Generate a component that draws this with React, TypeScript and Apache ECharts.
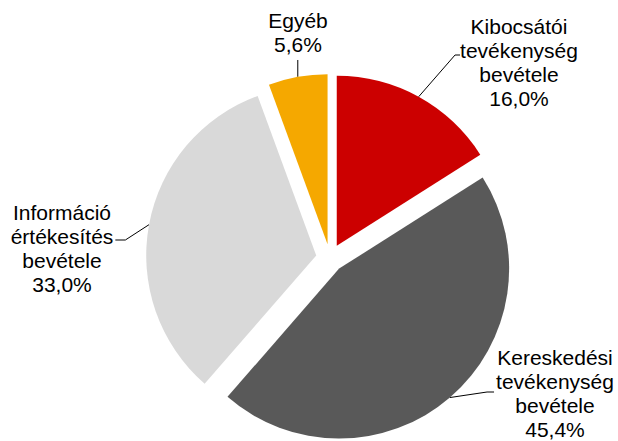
import React, { useEffect, useRef } from 'react';
import * as echarts from 'echarts';

// Data (clockwise from 12 o'clock)
const categories = [
  'Kibocsátói\ntevékenység\nbevétele',
  'Kereskedési\ntevékenység\nbevétele',
  'Információ\nértékesítés\nbevétele',
  'Egyéb',
];
const shares = [16.0, 45.4, 33.0, 5.6];
const colors = ['#CC0000', '#595959', '#D9D9D9', '#F5A800'];

// Layout
const CENTER = [330, 258];
const RADIUS = 170;
const EXPLODE = 14;

// Label block centre, which side of the block the leader line attaches to
const labelPlacement = [
  { x: 519, y: 62, side: 'left', dy: -7, elbow: 5, gap: 0 },
  { x: 555, y: 393, side: 'left', dy: -1, elbow: 7, gap: 2 },
  { x: 62, y: 248, side: 'right', dy: -8, elbow: 10, gap: 2 },
  { x: 298, y: 32, side: 'bottom', dy: 0, elbow: 0, gap: 4 },
];

const fmt = (v: number) => v.toFixed(1).replace('.', ',') + '%';

export default function App() {
  const ref = useRef<HTMLDivElement>(null);
  useEffect(() => {
    if (!ref.current) return;
    const chart = echarts.init(ref.current, undefined, { renderer: 'svg' });
    chart.setOption({
      animation: false,
      backgroundColor: '#ffffff',
      series: [
        {
          type: 'pie',
          center: CENTER,
          radius: RADIUS,
          startAngle: 90,
          clockwise: true,
          avoidLabelOverlap: false,
          selectedMode: 'multiple',
          selectedOffset: EXPLODE,
          emphasis: { disabled: true },
          label: {
            show: true,
            position: 'outside',
            color: '#000000',
            fontFamily: 'Liberation Sans, Arial, sans-serif',
            fontSize: 21,
            lineHeight: 24,
            formatter: (p: any) => p.name + '\n' + fmt(p.value),
          },
          labelLine: {
            show: true,
            length: 20,
            length2: 10,
            lineStyle: { color: '#000000', width: 1 },
          },
          labelLayout: (params: any) => {
            const i = params.dataIndex;
            const p = labelPlacement[i];
            const r = params.labelRect;
            const w = r.width;
            const h = r.height;
            const pts = params.labelLinePoints;
            const start = pts ? [pts[0][0], pts[0][1]] : [CENTER[0], CENTER[1]];
            const rightSide = start[0] >= CENTER[0];
            const anchorX = rightSide ? r.x : r.x + w;
            const anchorY = r.y + h / 2;
            const vx = start[0] - CENTER[0];
            const vy = start[1] - CENTER[1];
            const len = Math.hypot(vx, vy) || 1;
            const ox = (vx / len) * EXPLODE;
            const oy = (vy / len) * EXPLODE;
            let end: number[];
            let elbow: number[];
            if (p.side === 'left') {
              end = [p.x - w / 2 - p.gap, p.y + p.dy];
              elbow = [end[0] - p.elbow, end[1]];
            } else if (p.side === 'right') {
              end = [p.x + w / 2 + p.gap, p.y + p.dy];
              elbow = [end[0] + p.elbow, end[1]];
            } else {
              end = [start[0] + ox, p.y + h / 2 + p.gap];
              elbow = end;
            }
            return {
              dx: p.x - anchorX - ox,
              dy: p.y - anchorY - oy,
              align: 'center',
              verticalAlign: 'middle',
              labelLinePoints: [
                start,
                [elbow[0] - ox, elbow[1] - oy],
                [end[0] - ox, end[1] - oy],
              ],
            };
          },
          data: categories.map((name, i) => ({
            name,
            value: shares[i],
            selected: true,
            itemStyle: { color: colors[i] },
          })),
        },
      ],
    });
    return () => chart.dispose();
  }, []);
  return (
    <div
      ref={ref}
      style={{ position: 'absolute', left: 0, top: 0, width: 618, height: 441 }}
    />
  );
}
